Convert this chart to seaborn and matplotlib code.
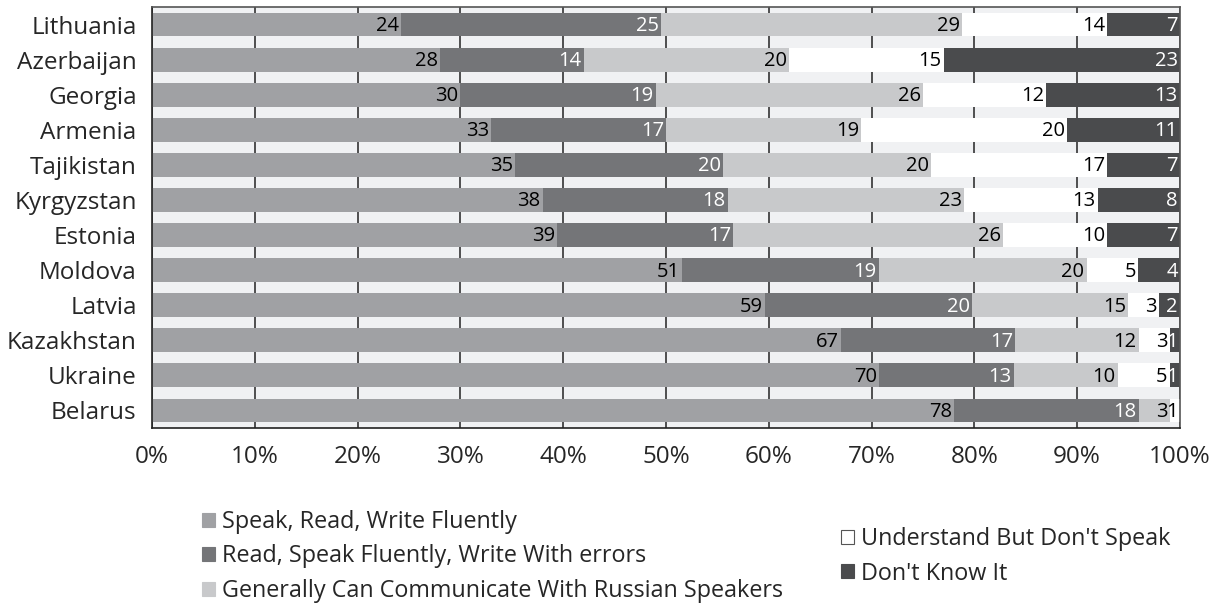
import numpy as np
import pandas as pd
import matplotlib.pyplot as plt
from matplotlib.patches import Patch
import seaborn as sns

# Russian language proficiency by country (percent of respondents)
countries = ['Lithuania', 'Azerbaijan', 'Georgia', 'Armenia', 'Tajikistan', 'Kyrgyzstan',
             'Estonia', 'Moldova', 'Latvia', 'Kazakhstan', 'Ukraine', 'Belarus']
fluent = [24, 28, 30, 33, 35, 38, 39, 51, 59, 67, 70, 78]
with_errors = [25, 14, 19, 17, 20, 18, 17, 19, 20, 17, 13, 18]
communicate = [29, 20, 26, 19, 20, 23, 26, 20, 15, 12, 10, 3]
understand = [14, 15, 12, 20, 17, 13, 10, 5, 3, 3, 5, 1]
dont_know = [7, 23, 13, 11, 7, 8, 7, 4, 2, 1, 1, 0]

series_names = ['Speak, Read, Write Fluently',
                'Read, Speak Fluently, Write With errors',
                'Generally Can Communicate With Russian Speakers',
                "Understand But Don't Speak",
                "Don't Know It"]
colors = ['#a0a1a4', '#747578', '#c8c9cb', '#ffffff', '#4a4b4d']
text_colors = ['black', 'white', 'black', 'black', 'white']

df = pd.DataFrame({'country': countries, 's0': fluent, 's1': with_errors,
                   's2': communicate, 's3': understand, 's4': dont_know})
cols = ['s0', 's1', 's2', 's3', 's4']
total = df[cols].sum(axis=1)
pct = df[cols].div(total, axis=0) * 100
cum = pct.cumsum(axis=1)
for i, c in enumerate(cols):
    df['cum' + str(i)] = cum[c]

sns.set_style('white')
plt.rcParams['font.family'] = ['Open Sans', 'DejaVu Sans']

fig = plt.figure(figsize=(12.22, 6.07), dpi=100)
ax = fig.add_axes([0.1244, 0.2949, 0.8412, 0.6936])
ax.set_facecolor('#f0f1f3')

# stacked bars: draw the cumulative totals from the longest down
for i in reversed(range(5)):
    sns.barplot(data=df, x='cum' + str(i), y='country', orient='h', color=colors[i],
                saturation=1, width=0.68, edgecolor='none', linewidth=0, ax=ax, zorder=2)

for r in range(len(countries)):
    for i, c in enumerate(cols):
        v = df.loc[r, c]
        if v == 0:
            continue
        ax.text(cum.loc[r, c] - 0.2, r + 0.04, str(v), ha='right', va='center',
                fontsize=14.5, color=text_colors[i], zorder=3)

ax.set_xlim(0, 100)
ax.set_ylim(len(countries) - 0.5, -0.5)
ax.set_xticks(np.arange(0, 101, 10))
ax.set_xticklabels([f'{t}%' for t in range(0, 101, 10)], fontsize=17.5)
ax.set_yticks(np.arange(-0.5, len(countries), 1))
ax.set_yticklabels([])
ax.set_yticks(np.arange(len(countries)), minor=True)
ax.set_yticklabels(countries, minor=True, fontsize=17.5)
ax.tick_params(axis='y', which='major', direction='out', length=5, width=1, color='#333333')
ax.tick_params(axis='y', which='minor', length=0, pad=11)
ax.tick_params(axis='x', direction='inout', length=9, width=1, color='#333333', pad=8)
ax.set_xlabel('')
ax.set_ylabel('')

ax.set_axisbelow(True)
ax.grid(axis='x', color='#333333', linewidth=1.2, zorder=0)
ax.grid(axis='y', visible=False)
for s in ax.spines.values():
    s.set_visible(True)
    s.set_color('#555555')
    s.set_linewidth(1.2)
ax.spines['bottom'].set_color('#222222')
ax.spines['left'].set_color('#222222')

handles = [Patch(facecolor=colors[i], edgecolor='#555555' if i == 3 else colors[i],
                 linewidth=0.8) for i in range(5)]
leg_kw = dict(frameon=False, fontsize=16.8, handlelength=0.55, handleheight=0.55,
              handletextpad=0.3, labelspacing=0.45, borderpad=0, borderaxespad=0)
fig.legend(handles[:3], series_names[:3], loc='upper left',
           bbox_to_anchor=(202 / 1222, 1 - 510 / 607), **leg_kw)
fig.legend(handles[3:], series_names[3:], loc='upper left',
           bbox_to_anchor=(841 / 1222, 1 - 527 / 607), **leg_kw)

fig.savefig('out.png', dpi=100)
